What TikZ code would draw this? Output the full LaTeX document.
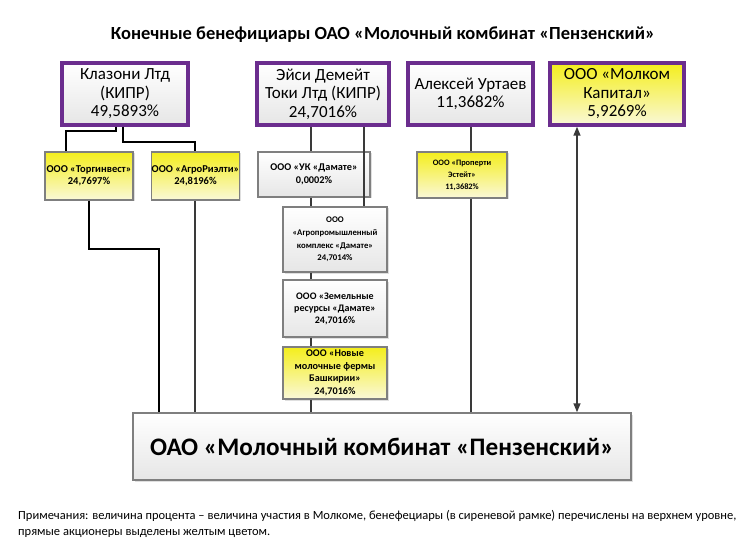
\documentclass[tikz,border=0pt]{standalone}
\usepackage{fontspec}
\setmainfont{Carlito}
\usetikzlibrary{arrows.meta,shadows,calc}
\definecolor{purp}{HTML}{6B2D8E}
\definecolor{bord}{HTML}{7F7F7F}
\definecolor{yel}{HTML}{F4EE1C}
\definecolor{yelb}{HTML}{FAF8D8}
\definecolor{lgr}{HTML}{E6E6E6}
\definecolor{ln}{HTML}{3A3A3A}
\newcommand{\fs}[2]{\fontsize{#1}{#2}\selectfont}
\tikzset{
  base/.style={draw, align=center, inner sep=0pt,
    drop shadow={opacity=0.25, shadow xshift=1.5pt, shadow yshift=-1.5pt}},
  topbox/.style={base, draw=purp, line width=3.5pt, top color=white, bottom color=lgr,
    font=\fs{17}{18.5}},
  topyel/.style={topbox, top color=yel, bottom color=yelb},
  smallbox/.style={base, draw=bord, line width=1.3pt, top color=white, bottom color=lgr,
    font=\bfseries},
  smallyel/.style={smallbox, top color=yel, bottom color=yelb},
  mainbox/.style={base, draw=bord, line width=1.5pt, top color=white, bottom color=lgr,
    font=\fs{25.2}{28}\bfseries},
  conn/.style={draw=ln, line width=1.5pt},
  connb/.style={draw=black, line width=2pt},
}
\begin{document}
\begin{tikzpicture}[x=1pt,y=-1pt]
\useasboundingbox[fill=white] (0,0) rectangle (752,556);
\node[font=\fs{18.5}{20}\bfseries] (title) at (383,35)
  {Конечные бенефициары ОАО «Молочный комбинат «Пензенский»};

% top row
\node[topbox, minimum width=126, minimum height=62] (klaz) at (125,94)
  {Клазони Лтд\\(КИПР)\\49,5893\%};
\node[topbox, minimum width=132, minimum height=62] (eisi) at (323,94)
  {Эйси Демейт\\Токи Лтд (КИПР)\\24,7016\%};
\node[topbox, minimum width=125, minimum height=62] (urt) at (470.5,94)
  {Алексей Уртаев\\11,3682\%};
\node[topyel, minimum width=134, minimum height=62] (molk) at (617,94)
  {ООО «Молком\\Капитал»\\5,9269\%};

% second row
\node[smallyel, minimum width=88, minimum height=48, font=\fs{10.5}{12}\bfseries] (torg) at (89,176)
  {ООО «Торгинвест»\\24,7697\%};
\node[smallyel, minimum width=87, minimum height=48, font=\fs{10.5}{12}\bfseries] (agror) at (195.5,176)
  {ООО «АгроРиэлти»\\24,8196\%};
\node[smallbox, minimum width=112, minimum height=45, font=\fs{10.3}{13}\bfseries] (uk) at (314,174.5)
  {ООО «УК «Дамате»\\0,0002\%};
\node[smallyel, minimum width=90, minimum height=46, font=\fs{8.3}{12}\bfseries] (prop) at (462,175)
  {ООО «Проперти\\Эстейт»\\11,3682\%};

% Damate chain
\node[smallbox, minimum width=104, minimum height=65, font=\fs{8.7}{12.7}\bfseries] (apk) at (335,239.5)
  {ООО\\«Агропромышленный\\комплекс «Дамате»\\24,7014\%};
\node[smallbox, minimum width=104, minimum height=57, font=\fs{10}{12}\bfseries] (zem) at (335,308.5)
  {ООО «Земельные\\ресурсы «Дамате»\\24,7016\%};
\node[smallyel, minimum width=104, minimum height=52, font=\fs{10.2}{12.5}\bfseries] (novye) at (335,373)
  {ООО «Новые\\молочные фермы\\Башкирии»\\24,7016\%};

% main
\node[mainbox, minimum width=498, minimum height=67] (main) at (382,446.5)
  {ОАО «Молочный комбинат «Пензенский»};

% connectors
\draw[connb] (klaz.south -| 116,0) |- (66,131) -- (torg.north -| 66,0);
\draw[connb] (klaz.south -| 123,0) |- (195,142) -- (agror.north -| 195,0);
\draw[connb] (torg.south) |- (159,249) -- (main.north -| 159,0);
\draw[conn] (agror.south -| 195,0) -- (main.north -| 195,0);
\draw[conn] (eisi.south -| 311,0) -- (uk.north -| 311,0);
\draw[conn] (eisi.south -| 364,0) -- (apk.north -| 364,0);
\draw[conn] (uk.south -| 311,0) -- (apk.north -| 311,0);
\draw[conn] (apk.south -| 311,0) -- (zem.north -| 311,0);
\draw[conn] (zem.south -| 311,0) -- (novye.north -| 311,0);
\draw[conn] (novye.south -| 311,0) -- (main.north -| 311,0);
\draw[conn] (urt.south -| 471,0) -- (prop.north -| 471,0);
\draw[conn] (prop.south -| 471,0) -- (main.north -| 471,0);
\draw[conn, {Triangle[length=9pt,width=7pt]}-{Triangle[length=9pt,width=7pt]}]
  (molk.south -| 577,0) -- (main.north -| 577,0);

% note
\node[anchor=north west, align=left, inner sep=0pt, font=\fs{12.5}{16}] (note) at (18,510)
  {Примечания: величина процента – величина участия в Молкоме, бенефециары (в сиреневой рамке) перечислены на верхнем уровне,\\
   прямые акционеры выделены желтым цветом.};
\end{tikzpicture}
\end{document}
